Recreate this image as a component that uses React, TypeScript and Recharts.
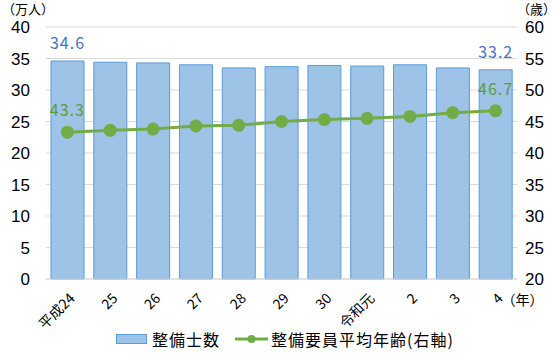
import React from "react";
import { ComposedChart, Bar, Line, XAxis, YAxis, CartesianGrid, Legend, LabelList } from "recharts";

const categories = ["平成24", "25", "26", "27", "28", "29", "30", "令和元", "2", "3", "4"];
const mechanics = [34.6, 34.4, 34.3, 34.0, 33.5, 33.7, 33.9, 33.8, 34.0, 33.5, 33.2];
const avgAge = [43.3, 43.6, 43.8, 44.3, 44.4, 45.0, 45.3, 45.5, 45.8, 46.4, 46.7];
const leftTicks = [0, 5, 10, 15, 20, 25, 30, 35, 40];
const rightTicks = [20, 25, 30, 35, 40, 45, 50, 55, 60];
const barName = "整備士数";
const lineName = "整備要員平均年齢(右軸)";

const data = categories.map((c, i) => ({ cat: c, mechanics: mechanics[i], age: avgAge[i] }));

const FONT = "'Liberation Sans', Arial, sans-serif";
const CJK = "'Noto Sans CJK JP', sans-serif";
const BAR_FILL = "#9DC3E6";
const BAR_STROKE = "#5B9BD5";
const LINE = "#70AD47";

const XTick = (props: any) => {
  const { x, y, payload, index } = props;
  return (
    <g>
      <g transform={`translate(${x + 4},${y + 8}) rotate(-45)`}>
        <text x={0} y={0} dy={6} textAnchor="end" fontSize={14} fill="#000" fontFamily={CJK}>
          {payload.value}
        </text>
      </g>
      {index === categories.length - 1 && (
        <text x={x + 6} y={y + 18} fontSize={14} fill="#000" fontFamily={CJK}>
          （年）
        </text>
      )}
    </g>
  );
};

const makeLabel = (color: string, offset: number) => (props: any) => {
  const { x, y, width, value, index } = props;
  if (index !== 0 && index !== categories.length - 1) return null;
  const cx = width !== undefined ? x + width / 2 : x;
  return (
    <text x={cx} y={y - offset} textAnchor="middle" fontSize={16} fill={color} fontFamily={CJK} letterSpacing={1}>
      {Number(value).toFixed(1)}
    </text>
  );
};

const LegendContent = () => (
  <div style={{ display: "flex", justifyContent: "center", alignItems: "center", fontFamily: CJK, fontSize: 16, letterSpacing: 1, color: "#000", paddingLeft: 14, lineHeight: "20px" }}>
    <svg width={31} height={10} style={{ marginRight: 5 }}>
      <rect x={0.5} y={0.5} width={30} height={9} fill={BAR_FILL} stroke={BAR_STROKE} />
    </svg>
    <span style={{ marginRight: 15 }}>{barName}</span>
    <svg width={33} height={12} style={{ marginRight: 3 }}>
      <line x1={0} y1={6} x2={33} y2={6} stroke={LINE} strokeWidth={3} />
      <circle cx={16.5} cy={6} r={4} fill={LINE} />
    </svg>
    <span>{lineName}</span>
  </div>
);

export default function App() {
  return (
    <div style={{ position: "absolute", left: 0, top: 0, width: 556, height: 361, background: "#fff" }}>
      <div style={{ position: "absolute", left: 2, top: 0, fontFamily: CJK, fontSize: 13, lineHeight: "17px" }}>（万人）</div>
      <div style={{ position: "absolute", left: 517, top: 0, fontFamily: CJK, fontSize: 13, lineHeight: "17px" }}>（歳）</div>
      <ComposedChart width={556} height={361} data={data} margin={{ top: 27, right: 0, left: 0, bottom: 0 }}>
        <CartesianGrid vertical={false} stroke="#D9D9D9" yAxisId="left" />
        <XAxis
          dataKey="cat"
          height={50}
          interval={0}
          tick={<XTick />}
          tickLine={false}
          axisLine={{ stroke: "#D9D9D9" }}
        />
        <YAxis
          yAxisId="left"
          domain={[0, 40]}
          ticks={leftTicks}
          width={46}
          axisLine={false}
          tickLine={false}
          tick={{ fontSize: 17, fill: "#000", fontFamily: FONT }}
          tickMargin={10}
        />
        <YAxis
          yAxisId="right"
          orientation="right"
          domain={[20, 60]}
          ticks={rightTicks}
          width={39}
          axisLine={false}
          tickLine={false}
          tick={{ fontSize: 17, fill: "#000", fontFamily: FONT }}
          tickMargin={2}
        />
        <Legend verticalAlign="bottom" height={32} content={<LegendContent />} />
        <Bar yAxisId="left" dataKey="mechanics" name={barName} fill={BAR_FILL} stroke={BAR_STROKE} strokeWidth={1} barSize={33} isAnimationActive={false}>
          <LabelList dataKey="mechanics" content={makeLabel("#4472C4", 12)} />
        </Bar>
        <Line yAxisId="right" dataKey="age" name={lineName} stroke={LINE} strokeWidth={3} dot={{ r: 5, fill: LINE, stroke: LINE }} isAnimationActive={false}>
          <LabelList dataKey="age" content={makeLabel("#5E9C3A", 16)} />
        </Line>
      </ComposedChart>
    </div>
  );
}
